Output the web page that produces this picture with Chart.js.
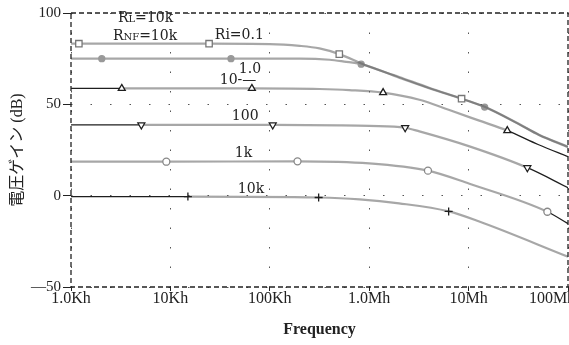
<!DOCTYPE html>
<html>
<head>
<meta charset="utf-8">
<script src="https://cdn.jsdelivr.net/npm/chart.js@4.4.1/dist/chart.umd.min.js"></script>
<style>
  html, body { margin: 0; padding: 0; background: #fff; }
  #wrap { width: 569px; height: 345px; }
</style>
</head>
<body>
<div id="wrap"><canvas id="gainChart"></canvas></div>
<script>
// Voltage gain vs frequency for Ri = 0.1 .. 10k (RL = RNF = 10k)
// frequency in Hz, gain in dB

// Ri = 0.1
const freqA = [1e3, 1.2e3, 2.45e4, 1e5, 2e5, 3.16e5, 5e5, 8.9e5, 2e6, 4e6, 8.5e6, 1.45e7, 3.16e7, 5.1e7, 1e8];
const gainA = [83.2, 83.2, 83.2, 83, 82, 80.6, 77.5, 71.7, 65, 59.1, 53.1, 48.7, 39.5, 33.4, 26.8];
const markA = [1.2e3, 2.45e4, 5e5, 8.5e6];

// Ri = 1.0
const freqB = [1e3, 2.04e3, 4.07e4, 2e5, 4e5, 5.6e5, 8.3e5, 2e6, 4e6, 1.45e7, 3.16e7, 5.1e7, 1e8];
const gainB = [75, 75, 75, 75, 74.4, 73.4, 72.0, 64.6, 58.8, 48.5, 39.3, 33.2, 26.6];
const markB = [2.04e3, 4.07e4, 8.3e5, 1.45e7];

// Ri = 10
const freqC = [1e3, 3.24e3, 6.6e4, 3.16e5, 6.3e5, 1.38e6, 3.2e6, 6.3e6, 1.26e7, 2.45e7, 5e7, 1e8];
const gainC = [58.7, 58.7, 58.7, 58.4, 57.8, 56.4, 52.5, 47, 41.2, 35.6, 28, 21.3];
const markC = [3.24e3, 6.6e4, 1.38e6, 2.45e7];

// Ri = 100
const freqD = [1e3, 5.1e3, 1.07e5, 5e5, 1e6, 2.3e6, 3.2e6, 1.02e7, 3.9e7, 1e8];
const gainD = [38.7, 38.7, 38.7, 38.5, 38.2, 37.2, 35.2, 27, 15.3, 4.4];
const markD = [5.1e3, 1.07e5, 2.3e6, 3.9e7];

// Ri = 1k
const freqE = [1e3, 9.1e3, 1.9e5, 1e6, 3.9e6, 1.02e7, 6.2e7, 1e8];
const gainE = [18.6, 18.6, 18.8, 17.7, 13.7, 6.5, -8.8, -15.3];
const markE = [9.1e3, 1.9e5, 3.9e6, 6.2e7];

// Ri = 10k
const freqF = [1e3, 1.5e4, 3.1e5, 8e5, 2e6, 6.3e6, 1.26e7, 1e8];
const gainF = [-0.5, -0.5, -1.0, -2.0, -4.2, -8.6, -14, -33.4];
const markF = [1.5e4, 3.1e5, 6.3e6];

const xTickVals = [1e3, 1e4, 1e5, 1e6, 1e7, 1e8];
const xTickText = ['1.0Kh', '10Kh', '100Kh', '1.0Mh', '10Mh', '100Mh'];
const yTickVals = [100, 50, 0, -50];
const yTickText = ['100', '50', '0', '\u201450'];

// curve labels, "_" toggles small caps
const noteText = ['R_L_=10k', 'R_NF_=10k', 'Ri=0.1', '1.0', '10-\u2014', '100', '1k', '10k'];
const noteFreq = [2965, 2640, 28000, 48800, 31400, 41500, 44500, 47700];
const noteGain = [98, 88.1, 88.7, 70.1, 64, 44.3, 24.1, 4.4];

const GRAY = 'rgba(95, 95, 95, 0.55)';
const DARK = '#1e1e1e';
const INK = '#222';
const SERIF = '"Liberation Serif", "Noto Sans CJK JP", serif';
const NOTE_FONT = '"DejaVu Serif", serif';

function makeSeries(label, freq, gain, marks, look) {
  const darkTo = look.darkTo ?? -Infinity;
  const darkFrom = look.darkFrom ?? Infinity;
  const isDark = s => s.p1.parsed.x <= darkTo || s.p0.parsed.x >= darkFrom;
  return {
    label,
    data: freq.map((f, i) => ({ x: f, y: gain[i] })),
    cubicInterpolationMode: 'monotone',
    borderColor: GRAY,
    borderWidth: 2.2,
    segment: {
      borderColor: s => isDark(s) ? DARK : GRAY,
      borderWidth: s => isDark(s) ? 1.3 : 2.2
    },
    pointStyle: look.shape,
    pointRotation: look.rotation || 0,
    pointRadius: c => marks.includes(c.raw.x) ? look.size : 0,
    pointHoverRadius: 0,
    pointBorderColor: look.edge,
    pointBackgroundColor: look.fill,
    pointBorderWidth: 1.3
  };
}

const datasets = [
  makeSeries('0.1', freqA, gainA, markA, { shape: 'rect', size: 4.5, edge: '#777', fill: '#fff' }),
  makeSeries('1.0', freqB, gainB, markB, { shape: 'circle', size: 3, edge: '#999', fill: '#999' }),
  makeSeries('10', freqC, gainC, markC, { shape: 'triangle', size: 4, edge: DARK, fill: '#fff',
    darkTo: markC[0], darkFrom: markC[3] }),
  makeSeries('100', freqD, gainD, markD, { shape: 'triangle', rotation: 180, size: 4, edge: DARK, fill: '#fff',
    darkTo: markD[0], darkFrom: markD[3] }),
  makeSeries('1k', freqE, gainE, markE, { shape: 'circle', size: 3.5, edge: '#888', fill: '#fff',
    darkFrom: markE[3] }),
  makeSeries('10k', freqF, gainF, markF, { shape: 'cross', size: 4, edge: DARK, fill: DARK,
    darkTo: markF[0] })
];

// dashed box round the plot area
const frame = {
  id: 'frame',
  afterDatasetsDraw(chart) {
    const { ctx, chartArea: a } = chart;
    ctx.save();
    ctx.strokeStyle = INK;
    ctx.lineWidth = 1.3;
    ctx.setLineDash([5, 3]);
    ctx.strokeRect(a.left, a.top, a.right - a.left, a.bottom - a.top);
    ctx.restore();
  }
};

const notes = {
  id: 'notes',
  afterDatasetsDraw(chart) {
    const { ctx, scales: { x, y } } = chart;
    ctx.save();
    ctx.fillStyle = INK;
    ctx.textBaseline = 'alphabetic';
    noteText.forEach((txt, i) => {
      let px = x.getPixelForValue(noteFreq[i]);
      const py = y.getPixelForValue(noteGain[i]) + 5;
      txt.split('_').forEach((part, k) => {
        ctx.font = (k % 2 ? '10px ' : '14px ') + NOTE_FONT;
        ctx.fillText(part, px, py);
        px += ctx.measureText(part).width;
      });
    });
    ctx.restore();
  }
};

new Chart(document.getElementById('gainChart'), {
  type: 'line',
  data: { datasets },
  plugins: [frame, notes],
  options: {
    responsive: true,
    maintainAspectRatio: false,
    animation: false,
    layout: { padding: { top: 13, right: 1, left: 0, bottom: 0 } },
    plugins: { legend: { display: false }, tooltip: { enabled: false } },
    scales: {
      x: {
        type: 'logarithmic',
        min: 1e3,
        max: 1e8,
        afterBuildTicks: s => { s.ticks = xTickVals.map(v => ({ value: v })); },
        afterFit: s => { s.height = 58; s.paddingLeft = 0; s.paddingRight = 0; },
        ticks: {
          autoSkip: false,
          maxRotation: 0,
          padding: 0,
          color: INK,
          font: { family: SERIF, size: 16, lineHeight: 1 },
          callback: v => {
            const i = xTickVals.indexOf(v);
            // last label sits inside the frame
            return i === xTickVals.length - 1 ? xTickText[i] + '\u2007\u2007\u2007\u2007' : xTickText[i];
          }
        },
        grid: { color: '#555', tickColor: INK, tickLength: 4, tickBorderDash: [] },
        border: { display: false, dash: [1.5, 18] },
        title: {
          display: true,
          text: 'Frequency',
          color: INK,
          font: { family: SERIF, size: 16, weight: 'bold' },
          padding: { top: 0, bottom: 6 }
        }
      },
      y: {
        min: -50,
        max: 100,
        afterBuildTicks: s => { s.ticks = yTickVals.map(v => ({ value: v })); },
        afterFit: s => { s.width = 71; s.paddingTop = 0; s.paddingBottom = 0; },
        ticks: {
          padding: 2,
          color: INK,
          font: { family: SERIF, size: 15 },
          callback: v => yTickText[yTickVals.indexOf(v)]
        },
        grid: { color: '#555', tickColor: INK, tickLength: 8, tickBorderDash: [] },
        border: { display: false, dash: [1.5, 18] },
        title: {
          display: true,
          text: '電圧ゲイン (dB)',
          color: INK,
          font: { family: SERIF, size: 16 },
          padding: { top: 8, bottom: 0 }
        }
      }
    }
  }
});
</script>
</body>
</html>
